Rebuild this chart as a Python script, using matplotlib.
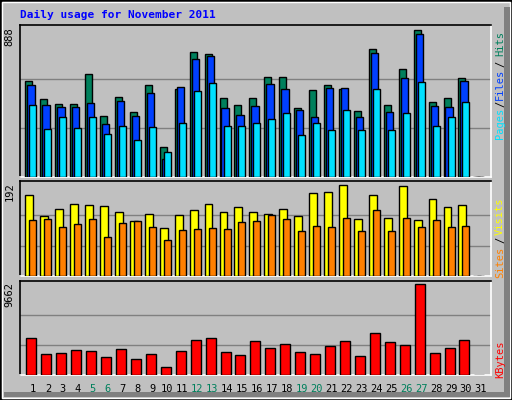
import matplotlib.pyplot as plt
from matplotlib.patches import Rectangle
import numpy as np

days = np.arange(1, 32)
hits = [575, 467, 441, 441, 618, 364, 483, 388, 555, 179, 531, 751, 739, 477, 435, 477, 602, 602, 412, 521,
        555, 531, 394, 769, 435, 652, 888, 453, 477, 596, 0]
files = [555, 435, 423, 423, 447, 316, 459, 364, 507, 105, 543, 709, 727, 412, 370, 429, 561, 531, 400, 358,
         537, 537, 358, 745, 388, 593, 858, 429, 423, 579, 0]
pages = [431, 286, 358, 292, 358, 261, 304, 219, 298, 147, 322, 515, 563, 304, 304, 322, 346, 382, 249, 322,
         280, 400, 280, 527, 280, 382, 569, 304, 358, 453, 0]
visits = [171, 127, 142, 151, 149, 147, 134, 116, 131, 102, 129, 138, 151, 134, 145, 134, 131, 142, 127, 175,
          177, 192, 120, 170, 123, 190, 119, 162, 145, 149, 0]
sites = [119, 120, 104, 110, 120, 83, 112, 116, 104, 77, 98, 100, 102, 100, 114, 116, 129, 120, 94, 106,
         104, 123, 94, 139, 96, 123, 104, 119, 104, 106, 0]
kbytes = [3943, 2244, 2350, 2668, 2562, 1926, 2774, 1714, 2244, 849, 2562, 3731, 3943, 2456, 2138, 3625,
          2881, 3306, 2456, 2244, 3094, 3625, 2031, 4474, 3519, 3200, 9662, 2350, 2881, 3731, 0]
weekend = [5, 6, 12, 13, 19, 20, 26, 27]

bg = '#c0c0c0'
mono = 'DejaVu Sans Mono'
fs = 7.5

fig = plt.figure(figsize=(5.12, 4), dpi=100, facecolor=bg)
# frame of the image
fig.patches.append(Rectangle((0, 0), 1, 1, transform=fig.transFigure, fill=False, edgecolor='black', lw=2))
fig.patches.append(Rectangle((0.004, 0.006), 0.992, 0.99, transform=fig.transFigure, fill=False,
                             edgecolor='white', lw=1))
fig.patches.append(Rectangle((0.008, 0.008), 0.988, 0.012, transform=fig.transFigure, color='#808080', lw=0))
fig.patches.append(Rectangle((0.984, 0.008), 0.012, 0.975, transform=fig.transFigure, color='#808080', lw=0))

fig.text(20 / 512, 1 - 15 / 400, 'Daily usage for November 2011', color='#0000ff', fontsize=fs + 0.5,
         family=mono, weight='bold', va='center')

x0, w = 20 / 512, 471 / 512
ax1 = fig.add_axes([x0, 0.558, w, 0.379])
ax2 = fig.add_axes([x0, 0.309, w, 0.239])
ax3 = fig.add_axes([x0, 0.062, w, 0.2365])

def style(ax, top):
    ax.set_facecolor(bg)
    ax.set_xlim(0.13, 31.67)
    ax.set_ylim(0, top)
    ax.set_xticks([])
    ax.set_yticks([])
    ax.spines['left'].set_color('black')
    ax.spines['top'].set_color('black')
    ax.spines['right'].set_color('white')
    ax.spines['bottom'].set_color('white')
    for s in ax.spines.values():
        s.set_linewidth(1.2)

d = days.astype(float)
kw = dict(align='edge', edgecolor='black', linewidth=1, zorder=3)

style(ax1, 914)
for g in (888 / 3, 888 * 2 / 3):
    ax1.axhline(g, color='#808080', lw=1, zorder=1)
ax1.bar(d - 0.51, hits, 0.47, color='#00805c', **kw)
ax1.bar(d - 0.38, files, 0.49, color='#0040ff', **kw)
ax1.bar(d - 0.24, pages, 0.47, color='#00e0ff', **kw)
ax1.text(-0.012, 0.985, '888', transform=ax1.transAxes, rotation=90, ha='right', va='top',
         fontsize=fs, family=mono)

style(ax2, 200)
for g in (192 / 3, 192 * 2 / 3):
    ax2.axhline(g, color='#808080', lw=1, zorder=1)
ax2.bar(d - 0.51, visits, 0.53, color='#ffff00', **kw)
ax2.bar(d - 0.24, sites, 0.47, color='#ff8000', **kw)
ax2.text(-0.012, 0.985, '192', transform=ax2.transAxes, rotation=90, ha='right', va='top',
         fontsize=fs, family=mono)

style(ax3, 10051)
for g in (9662 / 3, 9662 * 2 / 3):
    ax3.axhline(g, color='#808080', lw=1, zorder=1)
ax3.bar(d - 0.44, kbytes, 0.67, color='#ff0000', **kw)
ax3.text(-0.012, 0.985, '9662', transform=ax3.transAxes, rotation=90, ha='right', va='top',
         fontsize=fs, family=mono)

# day labels
for day in days:
    ax3.text(day, -0.15, str(day), transform=ax3.get_xaxis_transform(), ha='center', va='center',
             fontsize=fs, family=mono, color='#00805c' if day in weekend else 'black')

# right side legends
legend = [('Hits', '#00805c', 44), ('/', 'black', 64), ('Files', '#0040ff', 84), ('/', 'black', 104),
          ('Pages', '#00e0ff', 123), ('Visits', '#ffff00', 216), ('/', 'black', 240),
          ('Sites', '#ff8000', 262), ('KBytes', '#ff0000', 359)]
for txt, col, yc in legend:
    fig.text(500 / 512, 1 - yc / 400, txt, rotation=90, ha='center', va='center', color=col,
             fontsize=fs, family=mono)

fig.savefig('out.png', dpi=100, facecolor=bg)
